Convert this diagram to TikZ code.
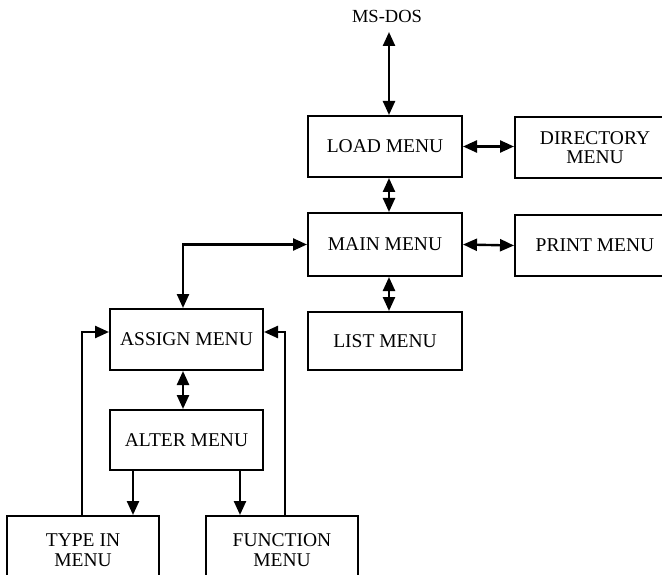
\documentclass[tikz,border=0pt]{standalone}
\usepackage{fontspec}
\setmainfont{Liberation Serif}
\usetikzlibrary{arrows.meta}
\begin{document}
\begin{tikzpicture}[x=1pt,y=-1pt,
  box/.style={draw,line width=2pt,minimum width=153pt,minimum height=61pt,inner sep=0pt,
    align=center,font=\fontsize{19.5}{19.5}\selectfont},
  link/.style={line width=2.4pt,{Triangle[length=14pt,width=12pt]}-{Triangle[length=14pt,width=12pt]}},
  onelink/.style={line width=2.4pt,-{Triangle[length=14pt,width=12pt]}}]
\clip (0,0) rectangle (662,575);
\fill[white] (0,0) rectangle (662,575);
\node[font=\fontsize{18.5}{18}\selectfont,inner sep=1pt] (msdos) at (387,16) {MS-DOS};
\node[box,minimum width=154pt] (load) at (385,146.5) {LOAD MENU};
\node[box,minimum width=160pt] (dir) at (595,147.5) {DIRECTORY\\MENU};
\node[box,minimum width=154pt,minimum height=63pt] (main) at (385,244.5) {MAIN MENU};
\node[box,minimum width=160pt] (print) at (595,245.5) {PRINT MENU};
\node[box,minimum width=154pt,minimum height=58pt] (list) at (385,341) {LIST MENU};
\node[box] (assign) at (186.5,339.5) {ASSIGN MENU};
\node[box,minimum height=60pt] (alter) at (186.5,440) {ALTER MENU};
\node[box,minimum width=152pt,minimum height=68pt] (typein) at (83,550) {TYPE IN\\MENU};
\node[box,minimum width=152pt,minimum height=68pt] (func) at (282,550) {FUNCTION\\MENU};
\coordinate (mx) at (389,32);
\coordinate (ta) at (133,0);
\coordinate (fa) at (240,0);
\coordinate (tr) at (82,332);
\coordinate (fr) at (285,332);
\coordinate (ax) at (183,0);
\draw[link] (mx) -- (mx |- load.north);
\draw[link] (load.east) -- (load.east -| dir.west);
\draw[link] (load.south -| mx) -- (main.north -| mx);
\draw[link] (main.east) -- (print.west);
\draw[link] (main.south -| mx) -- (list.north -| mx);
\draw[link] (main.west) -| (assign.north -| ax);
\draw[link] (assign.south -| ax) -- (alter.north -| ax);
\draw[onelink] (alter.south -| ta) -- (typein.north -| ta);
\draw[onelink] (alter.south -| fa) -- (func.north -| fa);
\draw[onelink] (typein.north -| tr) -- (tr) -- (assign.west |- tr);
\draw[onelink] (func.north -| fr) -- (fr) -- (assign.east |- fr);
\end{tikzpicture}
\end{document}
